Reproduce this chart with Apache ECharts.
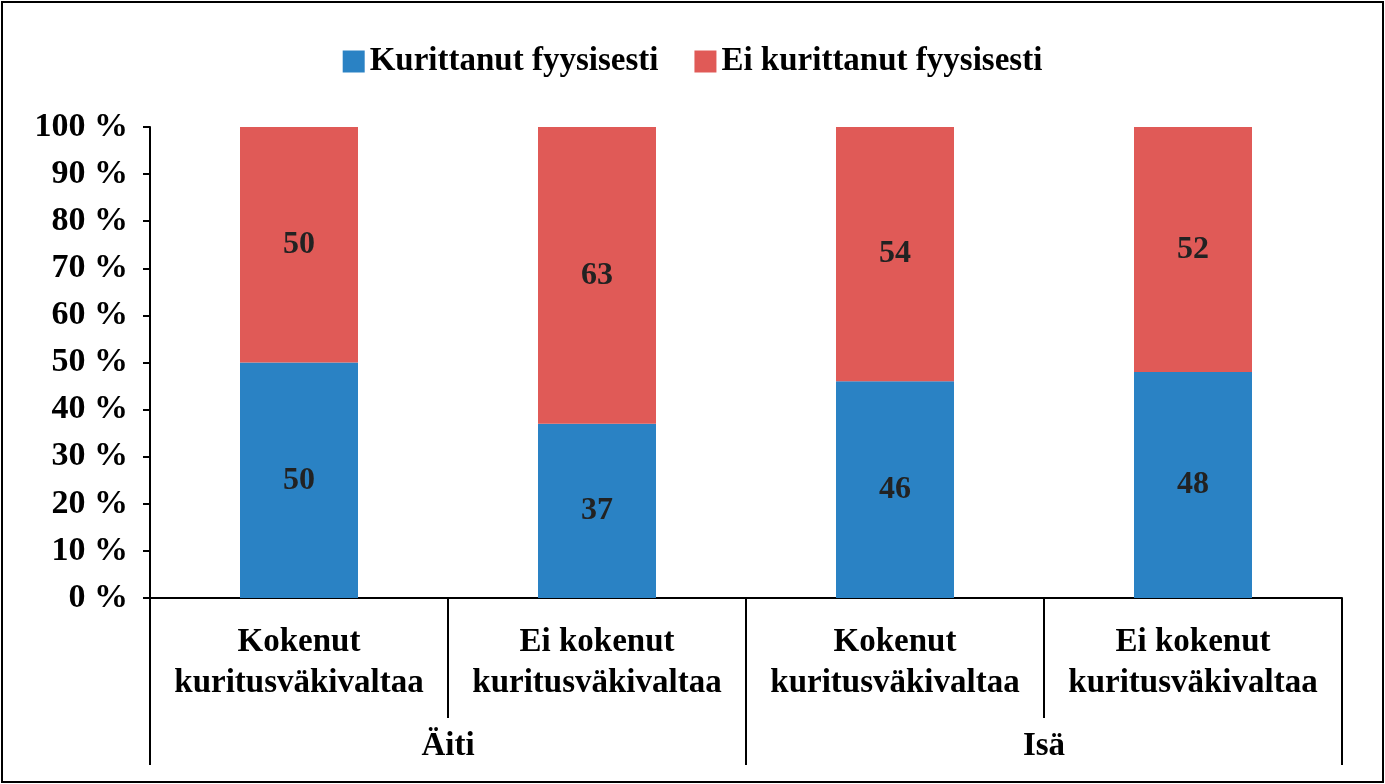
<!DOCTYPE html>
<html><head><meta charset="utf-8">
<script src="https://cdn.jsdelivr.net/npm/echarts@6/dist/echarts.min.js"></script>
<style>html,body{margin:0;padding:0;background:#fff}#c{width:1385px;height:784px}</style>
</head><body><div id="c"></div>
<script>
const categories = ['Kokenut\nkuritusväkivaltaa', 'Ei kokenut\nkuritusväkivaltaa', 'Kokenut\nkuritusväkivaltaa', 'Ei kokenut\nkuritusväkivaltaa'];
const groups = ['Äiti', 'Isä'];
const kurittanut = [50, 37, 46, 48];
const eiKurittanut = [50, 63, 54, 52];

const font = 'Liberation Serif';
const txt = {fontFamily: font, fontWeight: 'bold', color: '#000'};

let chart = echarts.init(document.getElementById('c'));
chart.setOption({
    backgroundColor: '#fff',
    animation: false,
    graphic: [{
        type: 'rect', shape: {x: 2, y: 2, width: 1381, height: 780},
        style: {fill: 'none', stroke: '#000', lineWidth: 2}
    }],
    legend: {
        top: 40, left: 'center', itemWidth: 22, itemHeight: 22, itemGap: 36,
        icon: 'rect',
        textStyle: Object.assign({fontSize: 33}, txt),
        data: ['Kurittanut fyysisesti', 'Ei kurittanut fyysisesti']
    },
    grid: {left: 150, right: 43, top: 127, bottom: 186},
    xAxis: [{
        type: 'category', data: categories,
        axisLine: {lineStyle: {color: '#000', width: 2}},
        axisTick: {show: true, alignWithLabel: false, length: 120, lineStyle: {color: '#000', width: 2}},
        axisLabel: Object.assign({fontSize: 33, margin: 24, lineHeight: 41, interval: 0}, txt)
    }, {
        type: 'category', data: groups, position: 'bottom',
        axisLine: {show: false},
        axisTick: {show: true, length: 167, lineStyle: {color: '#000', width: 2}},
        axisLabel: Object.assign({fontSize: 33, margin: 132}, txt)
    }],
    yAxis: {
        type: 'value', min: 0, max: 100, interval: 10,
        splitLine: {show: false},
        axisLine: {show: true, lineStyle: {color: '#000', width: 2}},
        axisTick: {show: true, length: 7, lineStyle: {color: '#000', width: 2}},
        axisLabel: Object.assign({fontSize: 34, margin: 22, formatter: '{value} %'}, txt)
    },
    series: [{
        name: 'Kurittanut fyysisesti', type: 'bar', stack: 's', barWidth: 118,
        data: kurittanut, itemStyle: {color: '#2a82c4'},
        label: {show: true, fontSize: 32, color: '#222', fontFamily: font, fontWeight: 'bold'}
    }, {
        name: 'Ei kurittanut fyysisesti', type: 'bar', stack: 's', barWidth: 118,
        data: eiKurittanut, itemStyle: {color: '#e05a57'},
        label: {show: true, fontSize: 32, color: '#222', fontFamily: font, fontWeight: 'bold'}
    }]
});
</script></body></html>
